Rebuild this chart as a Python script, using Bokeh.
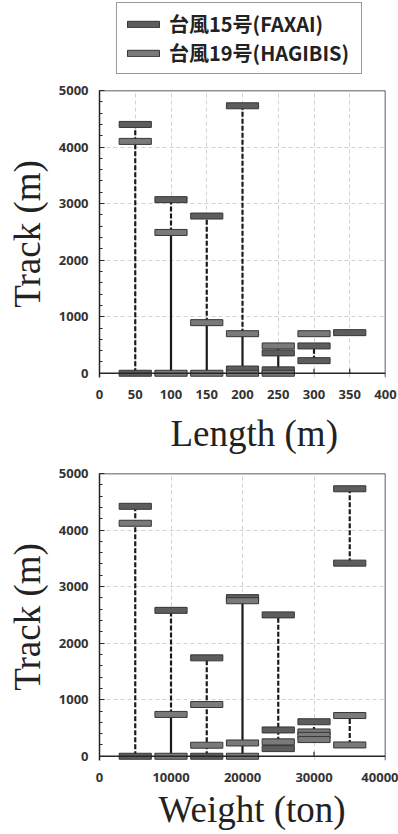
from bokeh.plotting import figure
from bokeh.layouts import column
from bokeh.models import FixedTicker, Span, Legend, LegendItem, Title, Range1d
from bokeh.embed import file_html
from bokeh.resources import INLINE

# ---------------- Ship length panel ----------------
length_ticks = [0, 50, 100, 150, 200, 250, 300, 350, 400]

# individual ships (bin centre, track in m)
len_faxai_x = [50, 50, 100, 150, 200, 200, 250, 250, 300, 300, 350]
len_faxai_y = [0, 4400, 3070, 2780, 4730, 75, 60, 360, 483, 223, 718]
len_hagibis_x = [50, 100, 100, 150, 150, 200, 200, 250, 250, 300]
len_hagibis_y = [4100, 0, 2490, 0, 895, 0, 700, 0, 483, 700]

# range lines
len_solid_x = [100, 150, 200, 250]
len_solid_lo = [0, 0, 0, 0]
len_solid_hi = [2490, 895, 700, 480]
len_dashed_x = [50, 100, 150, 200, 300]
len_dashed_lo = [0, 2490, 895, 700, 223]
len_dashed_hi = [4400, 3070, 2780, 4730, 483]

# ---------------- Ship weight panel ----------------
weight_ticks = [0, 10000, 20000, 30000, 40000]

wt_faxai_x = [5000, 5000, 10000, 15000, 15000, 20000, 25000, 25000, 25000,
              30000, 35000, 35000]
wt_faxai_y = [0, 4420, 2580, 1740, 0, 2805, 2500, 465, 135, 610, 4730, 3415]
wt_hagibis_x = [5000, 10000, 10000, 15000, 15000, 20000, 20000, 20000, 25000,
                30000, 30000, 30000, 35000, 35000]
wt_hagibis_y = [4120, 0, 740, 915, 195, 2750, 235, 0, 255, 430, 370, 295,
                720, 200]

wt_solid_x = [10000, 20000]
wt_solid_lo = [0, 0]
wt_solid_hi = [740, 2750]
wt_dashed_x = [5000, 10000, 15000, 25000, 30000, 35000, 35000]
wt_dashed_lo = [0, 740, 0, 255, 430, 3415, 200]
wt_dashed_hi = [4420, 2580, 1740, 2500, 610, 4730, 720]

track_ticks = [0, 1000, 2000, 3000, 4000, 5000]
track_minor = list(range(0, 5001, 200))

series_names = ["台風15号(FAXAI)", "台風19号(HAGIBIS)"]

FAXAI_COLOR = "#5d5d5d"
HAGIBIS_COLOR = "#7a7a7a"
EDGE = "#363636"
AXIS = "#262626"
TICK_FONT = "Open Sans"
SERIF = "Liberation Serif"


def make_panel(xticks, bin_width, fx, fy, hx, hy, sx, slo, shi, dx, dlo, dhi,
               xlabel, top_border, bottom_border, label_offset, label_standoff):
    xmax = xticks[-1]
    p = figure(frame_width=286, frame_height=287,
               x_range=Range1d(0, xmax), y_range=Range1d(-75, 5000),
               output_backend="svg", toolbar_location=None,
               min_border_left=99, min_border_right=13,
               min_border_top=top_border, min_border_bottom=bottom_border)
    p.outline_line_color = None
    p.background_fill_color = "white"

    # grid
    p.xgrid.ticker = FixedTicker(ticks=xticks[1:-1])
    p.ygrid.ticker = FixedTicker(ticks=track_ticks[1:-1])
    for g in (p.xgrid, p.ygrid):
        g.grid_line_color = "#d2d2d2"
        g.grid_line_dash = "4 3"
        g.grid_line_width = 1

    # y axis
    ya = p.yaxis[0]
    ya.ticker = FixedTicker(ticks=track_ticks, minor_ticks=track_minor)
    ya.axis_line_color = AXIS
    ya.axis_line_width = 1.5
    ya.major_tick_in = 5
    ya.major_tick_out = 0
    ya.minor_tick_in = 3
    ya.minor_tick_out = 0
    ya.major_tick_line_color = AXIS
    ya.minor_tick_line_color = AXIS
    ya.major_label_text_font = TICK_FONT
    ya.major_label_text_font_style = "bold"
    ya.major_label_text_font_size = "13px"
    ya.major_label_text_color = "#333333"
    ya.major_label_standoff = 11
    ya.axis_label = "Track (m)"
    ya.axis_label_text_font = SERIF
    ya.axis_label_text_font_style = "normal"
    ya.axis_label_text_font_size = "37px"
    ya.axis_label_text_color = "#222222"
    ya.axis_label_standoff = 8

    # x axis (labels only, the line is drawn at track 0)
    xa = p.xaxis[0]
    xa.ticker = FixedTicker(ticks=xticks)
    xa.axis_line_color = None
    xa.major_tick_in = 0
    xa.major_tick_out = 0
    xa.minor_tick_in = 0
    xa.minor_tick_out = 0
    xa.major_label_text_font = TICK_FONT
    xa.major_label_text_font_style = "bold"
    xa.major_label_text_font_size = "13px"
    xa.major_label_text_color = "#333333"
    xa.major_label_standoff = 12

    # frame lines
    p.add_layout(Span(location=0, dimension="width", line_color=AXIS, line_width=1.5))
    p.add_layout(Span(location=5000, dimension="width", line_color=AXIS, line_width=1.5))
    p.add_layout(Span(location=xmax, dimension="height", line_color=AXIS, line_width=1.5))
    inner = xticks[1:-1]
    p.segment(x0=inner, y0=[0] * len(inner), x1=inner, y1=[80] * len(inner),
              line_color=AXIS, line_width=1.2)

    # range lines
    p.segment(x0=dx, y0=dlo, x1=dx, y1=dhi, line_color="#1a1a1a",
              line_width=2.2, line_dash="5 2")
    p.segment(x0=sx, y0=slo, x1=sx, y1=shi, line_color="#1a1a1a", line_width=2.2)

    # ship markers
    p.rect(x=fx, y=fy, width=bin_width, height=6, height_units="screen",
           fill_color=FAXAI_COLOR, line_color=EDGE, line_width=1)
    p.rect(x=hx, y=hy, width=bin_width, height=6, height_units="screen",
           fill_color=HAGIBIS_COLOR, line_color=EDGE, line_width=1)

    p.add_layout(Title(text=xlabel, align="left", offset=label_offset,
                       standoff=label_standoff,
                       text_font=SERIF, text_font_size="37px",
                       text_font_style="normal", text_color="#222222"), "below")
    return p


# legend strip above both panels; its swatches sit outside the visible range
key = figure(frame_width=398, frame_height=80, x_range=Range1d(0, 1),
             y_range=Range1d(0, 1), output_backend="svg", toolbar_location=None,
             min_border=0)
key.axis.visible = False
key.grid.visible = False
key.outline_line_color = None
kf = key.rect(x=[-5], y=[-5], width=1, height=1, fill_color=FAXAI_COLOR,
              line_color=EDGE, line_width=1)
kh = key.rect(x=[-5], y=[-5], width=1, height=1, fill_color=HAGIBIS_COLOR,
              line_color=EDGE, line_width=1)
legend = Legend(items=[LegendItem(label=series_names[0], renderers=[kf]),
                       LegendItem(label=series_names[1], renderers=[kh])],
                location=(116, 6), orientation="vertical",
                glyph_width=40, glyph_height=8, label_standoff=6,
                label_width=186, padding=6, spacing=-5, margin=0,
                label_text_font="Noto Sans CJK JP", label_text_font_style="bold",
                label_text_font_size="20px", label_text_color="#222222",
                border_line_color="#333333", border_line_width=1.5,
                background_fill_color="white", background_fill_alpha=1)
key.add_layout(legend, "center")

top = make_panel(length_ticks, 45, len_faxai_x, len_faxai_y,
                 len_hagibis_x, len_hagibis_y,
                 len_solid_x, len_solid_lo, len_solid_hi,
                 len_dashed_x, len_dashed_lo, len_dashed_hi,
                 "Length (m)", 10, 78, 71, 18)

bottom = make_panel(weight_ticks, 4500, wt_faxai_x, wt_faxai_y,
                    wt_hagibis_x, wt_hagibis_y,
                    wt_solid_x, wt_solid_lo, wt_solid_hi,
                    wt_dashed_x, wt_dashed_lo, wt_dashed_hi,
                    "Weight (ton)", 11, 75, 59, 4)

layout = column(key, top, bottom, spacing=0)
open("out.html", "w").write(file_html(layout, INLINE))
